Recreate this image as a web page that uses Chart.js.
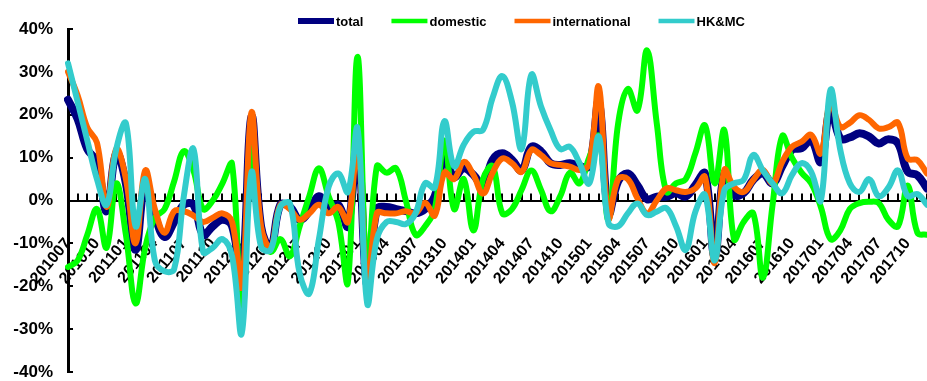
<!DOCTYPE html>
<html><head><meta charset="utf-8">
<script src="https://cdn.jsdelivr.net/npm/chart.js@4.4.1/dist/chart.umd.min.js"></script>
<style>html,body{margin:0;padding:0;background:#fff;overflow:hidden}</style>
</head><body>
<canvas id="c" width="927" height="381"></canvas>
<script>
const categories = [
'201007','201008','201009','201010','201011','201012',
'201101','201102','201103','201104','201105','201106','201107','201108','201109','201110','201111','201112',
'201201','201202','201203','201204','201205','201206','201207','201208','201209','201210','201211','201212',
'201301','201302','201303','201304','201305','201306','201307','201308','201309','201310','201311','201312',
'201401','201402','201403','201404','201405','201406','201407','201408','201409','201410','201411','201412',
'201501','201502','201503','201504','201505','201506','201507','201508','201509','201510','201511','201512',
'201601','201602','201603','201604','201605','201606','201607','201608','201609','201610','201611','201612',
'201701','201702','201703','201704','201705','201706','201707','201708','201709','201710','201711','201712'];

const tickLabels = ['201007','201010','201101','201104','201107','201110','201201','201204','201207','201210',
'201301','201304','201307','201310','201401','201404','201407','201410','201501','201504','201507','201510',
'201601','201604','201607','201610','201701','201704','201707','201710'];

const total = [23.5, 19, 12, 9, -2.5, 11, 4, -11.5, 4, -3.5,
 -8.5, -5, -1, -1, -8, -6, -4.5, -6, -18, 19.5,
 -6, -11, -1, -1.5, -4.5, -2.5, 1, -2, -1, -6,
 14, -20, -2, -1.5, -2, -2.5, -3, -2, 1, 10,
 5.5, 7.5, 6, 3.5, 9.5, 11, 9.5, 7, 12.5, 11.5,
 8.7, 8.3, 8.7, 8, 8, 23, -3, 4.5, 6.3, 3.5,
 0.3, 0.9, 0.9, 1.7, 0.9, 3.6, 6.3, -13, 6.3, 1.3,
 1.7, 4.8, 6.3, 4, 8, 11.8, 12.2, 14.1, 9, 21.5,
 14.5, 14.7, 15.7, 14.9, 13.3, 14.3, 13.3, 6.7, 5.9, 2.8];

const domestic = [-15.5, -14, -8, -2, -11, 4, -8, -24, -11, -4,
 -2, 4.5, 11.5, 7, -2, 0, 4, 8.5, -28, 12,
 -8, -12, -9, -13, -6, 1, 7.5, 1, -5, -19,
 33.5, -18.5, 8, 6.5, 7.5, 0, -8, -6, -2, 14,
 -2, 5, -7, 5, 8, -3, -2, 2.5, 7, 2.5,
 -2.5, 1, 6.5, 4, 10, 15, -4.5, 18, 26, 21,
 35, 18, 2, 4, 5, 11, 17.5, 4, 16.4, -9,
 -5, -3, -18, -1, 15, 10, 6.5, 4, -1.5, -9,
 -7, -2, -0.6, -0.3, -0.6, -4.5, -6, 3.5, -7.5, -8];

const international = [30, 24.5, 17, 13.5, -1.5, 12, 5, -10, 7, -2,
 -7.5, -2.5, -2.5, -3.5, -5, -4, -3, -5, -20, 20.5,
 -6, -11, -1, -2, -4.5, -3, -1, -3, -1.5, -5,
 13.5, -20.5, -3, -3, -3, -2.5, -3, -0.5, -3.5, 6.5,
 5, 9, 6, 1.6, 6.5, 9.8, 8.7, 6.7, 11.8, 10.6,
 8.7, 8.3, 7.9, 7.1, 8.5, 26.5, -4, 5, 5, 0.5,
 -3, 0, 2.8, 2.4, 2, 2.8, 5.5, -14.6, 7.1, 3.2,
 2, 4.8, 7.1, 4, 9, 12.5, 13.7, 15.3, 11, 23,
 17.2, 18.1, 19.9, 18.8, 16.8, 17.1, 18.1, 9.8, 9.4, 6.3];

const hkmc = [32, 23, 14, 5, -1, 12, 18, -6, 5, -14,
 -16.5, -16, 1, 12, -12, -11, -9, -13, -31, 6.5,
 -10.8, -11.5, -1.4, -0.7, -17, -21.7, -9, 3.2, 6.3, 2,
 16.8, -24, -9, -5, -5, -5.5, -3, 4, 3, 18.5,
 8, 13, 16, 16.5, 24, 29, 23, 12, 29.3, 22,
 16.4, 12, 12.5, 8.7, 4, 14.9, -5.3, -6, -3, -0.7,
 -3.4, -2.6, -1.8, -6, -11.5, -2.6, 1.3, -14, 2.4, 4,
 4.8, 10.6, 7, 4, 1.7, 5.9, 8.7, 6.7, 0, 25.8,
 12, 4, 2, 5, 1, 3, 7, 1, 1.5, -1];

const FONT = "'Liberation Sans', Arial, sans-serif";

const axisTicks = {
  id: 'axisTicks',
  beforeDatasetsDraw(chart) {
    const {ctx, scales: {x, y}, chartArea} = chart;
    const y0 = y.getPixelForValue(0);
    ctx.save();
    ctx.strokeStyle = '#000';
    ctx.lineWidth = 2;
    ctx.beginPath();
    for (let i = 1; i < categories.length; i++) {
      const px = Math.round(x.getPixelForValue(i));
      ctx.moveTo(px, y0); ctx.lineTo(px, y0 - 7);
    }
    for (let v = -40; v <= 40; v += 10) {
      const py = Math.round(y.getPixelForValue(v));
      ctx.moveTo(chartArea.left, py); ctx.lineTo(chartArea.left + 5, py);
    }
    ctx.stroke();
    ctx.restore();
  },
  afterDatasetsDraw(chart) {
    chart.ctx.save();
    chart.ctx.translate(3, 0);
  },
  afterDraw(chart) {
    chart.ctx.restore();
  }
};

const legendPlugin = {
  id: 'customLegend',
  afterDraw(chart) {
    const ctx = chart.ctx;
    ctx.save();
    ctx.font = 'bold 13px ' + FONT;
    ctx.textBaseline = 'middle';
    let x = 298; const yc = 21;
    chart.data.datasets.forEach(ds => {
      ctx.strokeStyle = ds.borderColor;
      ctx.lineWidth = ds.legendWidth;
      ctx.lineCap = 'butt';
      ctx.beginPath(); ctx.moveTo(x, yc); ctx.lineTo(x + 36, yc); ctx.stroke();
      ctx.fillStyle = '#000';
      ctx.fillText(ds.label, x + 38, yc + 1);
      x += 38 + ctx.measureText(ds.label).width + 28;
    });
    ctx.restore();
  }
};

new Chart(document.getElementById('c'), {
  type: 'line',
  data: {
    labels: categories,
    datasets: [
      {label: 'total', data: total, borderColor: '#000080', borderWidth: 8, legendWidth: 6, order: 3},
      {label: 'domestic', data: domestic, borderColor: '#00FF00', borderWidth: 6, legendWidth: 4.5, order: 2},
      {label: 'international', data: international, borderColor: '#FF6600', borderWidth: 6, legendWidth: 4.5, order: 1},
      {label: 'HK&MC', data: hkmc, borderColor: '#33CCCC', borderWidth: 6, legendWidth: 4.5, order: 0}
    ]
  },
  options: {
    responsive: false,
    animation: false,
    devicePixelRatio: 1,
    layout: {padding: {left: 0, right: 0, top: 29, bottom: 9}},
    plugins: {legend: {display: false}, tooltip: {enabled: false}},
    elements: {
      point: {radius: 0},
      line: {tension: 0.4, borderJoinStyle: 'round', borderCapStyle: 'round', fill: false}
    },
    scales: {
      y: {
        type: 'linear', position: 'left', min: -40, max: 40,
        ticks: {stepSize: 10, callback: v => v + '%', color: '#000', padding: 15,
                font: {family: FONT, size: 17, weight: 'bold'}},
        grid: {display: false, drawTicks: false},
        border: {display: true, color: '#000', width: 3},
        afterFit: s => { s.width = 68; s.paddingTop = 0; s.paddingBottom = 0; }
      },
      x: {
        type: 'category', position: {y: 0}, offset: false,
        grid: {display: false, drawTicks: false},
        border: {display: true, color: '#000', width: 2},
        ticks: {display: false},
        afterFit: s => { s.paddingLeft = 0; s.paddingRight = 0; }
      },
      x2: {
        type: 'category', axis: 'x', labels: categories, position: {y: 0}, offset: false, z: 1,
        grid: {display: false, drawTicks: false},
        border: {display: false},
        ticks: {
          autoSkip: false, maxRotation: 50, minRotation: 50, padding: 34, color: '#000',
          font: {family: FONT, size: 16, weight: 'bold'},
          callback: function (v) { const l = this.getLabelForValue(v); return tickLabels.includes(l) ? l : ''; }
        },
        afterFit: s => { s.paddingLeft = 0; s.paddingRight = 0; }
      }
    }
  },
  plugins: [axisTicks, legendPlugin]
});
</script>
</body></html>
